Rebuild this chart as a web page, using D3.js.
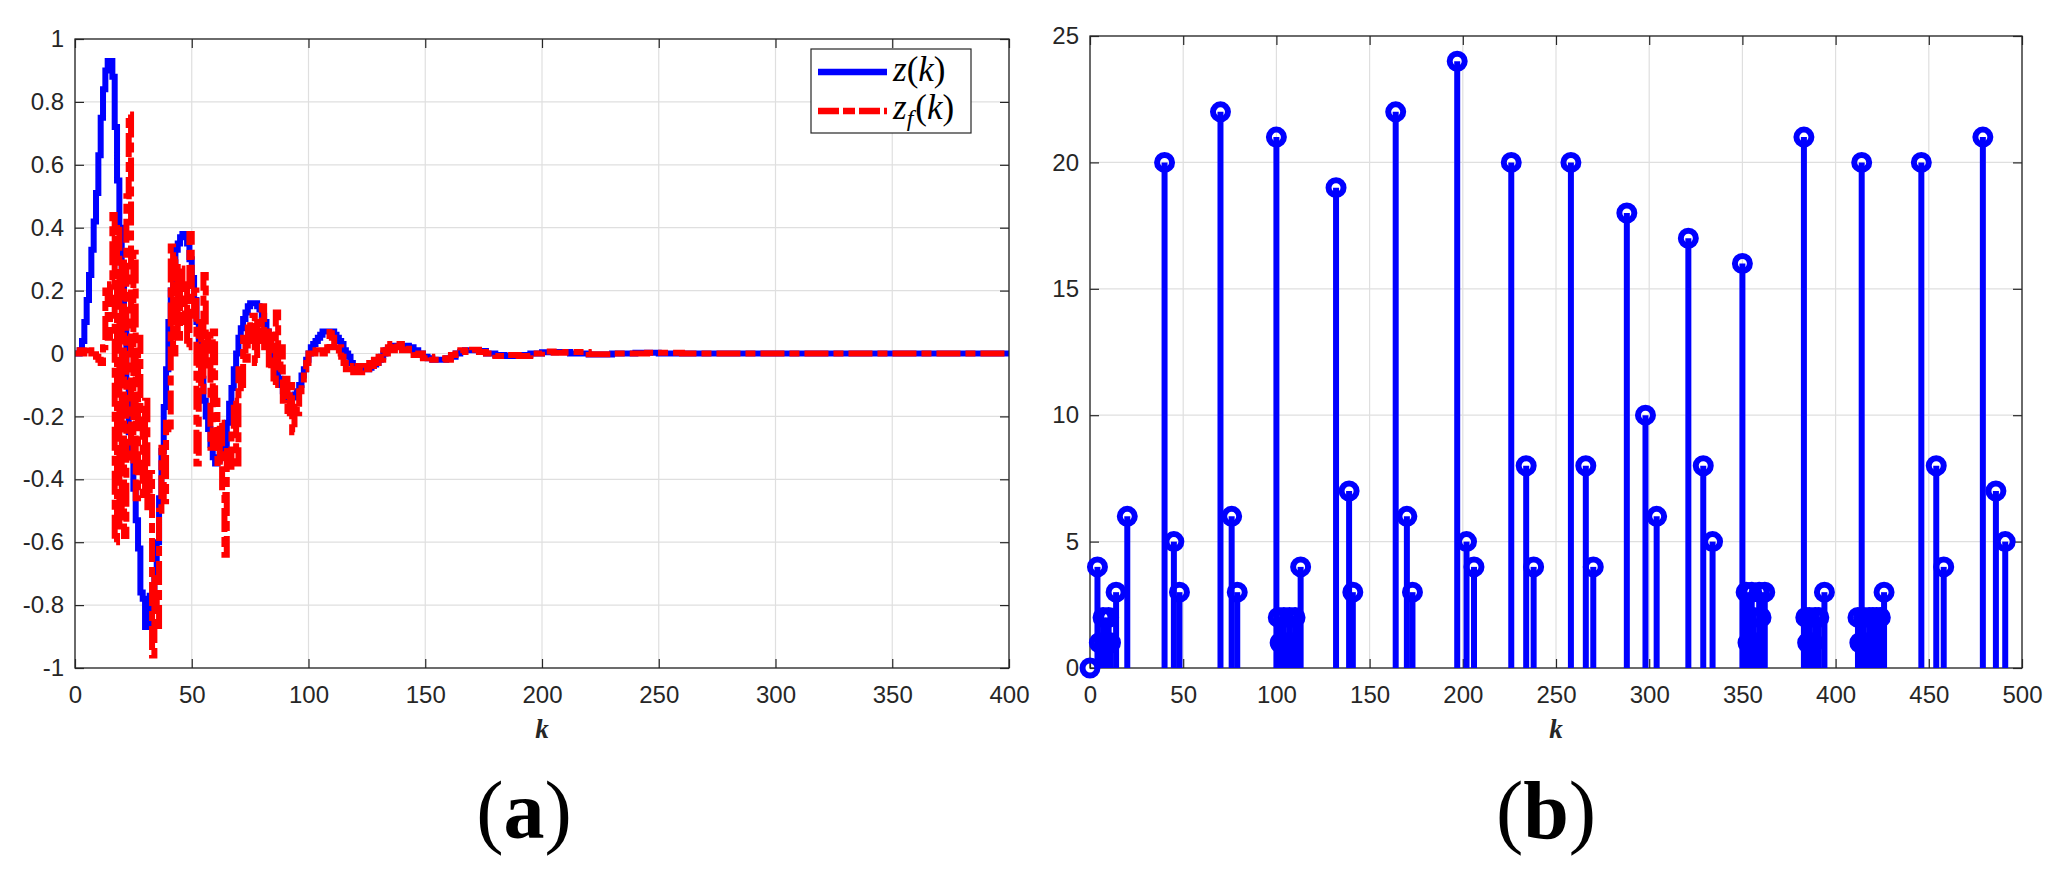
<!DOCTYPE html>
<html><head><meta charset="utf-8">
<script src="https://cdn.jsdelivr.net/npm/d3@7"></script>
<style>html,body{margin:0;padding:0;background:#fff;} svg{display:block}</style>
</head><body>
<svg id="chart" width="2060" height="870"></svg>
<script>
// ---------- DATA ----------
// (a) dense part, one sample per k = 0..120
const kDense = d3.range(0, 121);
const zDense = [
 0,0,0.01,0.04,0.1,0.17,0.25,0.33,0.42,0.51,
 0.63,0.75,0.84,0.9,0.93,0.93,0.88,0.72,0.55,0.4,
 0.27,0.1,-0.09,-0.25,-0.33,-0.43,-0.53,-0.62,-0.76,-0.78,
 -0.87,-0.87,-0.77,-0.77,-0.72,-0.6,-0.46,-0.31,-0.17,-0.05,
 0.1,0.2,0.28,0.33,0.35,0.37,0.38,0.38,0.35,0.3,
 0.24,0.17,0.1,0.01,-0.08,-0.15,-0.2,-0.24,-0.29,-0.33,
 -0.35,-0.34,-0.32,-0.31,-0.3,-0.22,-0.16,-0.11,-0.05,0,
 0.05,0.08,0.11,0.13,0.15,0.16,0.16,0.16,0.15,0.14,
 0.12,0.1,0.07,0.03,0,-0.03,-0.06,-0.08,-0.1,-0.12,
 -0.13,-0.14,-0.14,-0.14,-0.13,-0.12,-0.1,-0.07,-0.05,-0.02,
 0,0.02,0.03,0.04,0.05,0.06,0.07,0.07,0.07,0.07,
 0.07,0.06,0.05,0.04,0.03,0.01,0,-0.01,-0.03,-0.04,
 -0.05
];
const zfDense = [
 0,0,0.01,0,0.01,0.02,0.01,0,0.01,-0.01,
 -0.02,-0.03,0.02,0.2,0.05,0.22,0.44,-0.6,0.41,-0.55,
 0.3,-0.58,0.5,0.76,-0.35,0.32,-0.46,0.05,-0.2,-0.45,
 -0.15,-0.5,-0.38,-0.96,-0.7,-0.88,-0.5,-0.3,-0.47,-0.22,
 -0.25,0.34,0,0.3,0.05,0.27,0.1,0.22,0.02,0.38,
 0.12,0.2,-0.35,0.1,-0.12,0.25,-0.05,0.06,-0.3,0.07,
 -0.15,-0.36,-0.22,-0.45,-0.64,-0.3,-0.36,-0.24,-0.15,-0.35,
 -0.05,-0.12,0.05,-0.02,0.1,0.04,0.12,-0.03,0.1,0.04,
 0.15,0.02,0.08,-0.05,0.06,-0.1,0.13,-0.05,0.02,-0.15,
 -0.08,-0.2,-0.1,-0.25,-0.16,-0.19,-0.12,-0.1,-0.05,-0.03,
 0,0.01,0,0.01,0,0.01,0,0.01,0.02,0.08,
 0.05,0.02,0,0.02,-0.01,-0.03,-0.05,-0.06,-0.05,-0.04,
 -0.06
];
// (a) tail part, step change points
const kTailZ = [121,126,127,128,129,130,131,132,133,134,135,137,141,143,145,147,149,151,153,159,161,163,165,167,173,176,180,184,190,195,200,206,212,220,230,240,250,400];
const zTail  = [-0.05,-0.045,-0.04,-0.035,-0.03,-0.02,-0.01,0,0.01,0.015,0.02,0.025,0.025,0.02,0.01,0,-0.01,-0.015,-0.02,-0.015,-0.01,0,0.005,0.01,0.008,0,-0.005,-0.008,-0.005,0,0.004,0.005,0,-0.003,0,0.002,0,0];
const kTailZf = [121,122,123,124,125,126,127,128,129,130,131,132,133,134,135,136,137,138,139,140,141,142,143,145,147,149,151,153,156,159,161,163,165,167,170,173,176,180,184,190,195,200,205,210,220,230,245,260,400];
const zfTail  = [-0.04,-0.06,-0.05,-0.04,-0.05,-0.03,-0.04,-0.02,-0.03,-0.01,-0.02,0.01,0,0.02,0.03,0.01,0.035,0.02,0.03,0.01,0.025,0.01,0.015,-0.005,0,-0.015,-0.01,-0.02,-0.015,-0.02,-0.005,0,0.01,0.005,0.012,0.005,0,-0.008,-0.005,-0.008,0,0.006,0.002,0.005,-0.002,0,0.002,0,0];

// (b) stem data
const stemK = [0,4,5,7,8,10,11,14,20, 40,45,48, 70,76,79, 100,101,102,104,105,107,108,110,113, 132,139,141, 164,170,173, 197,202,206, 226,234,238, 258,266,270, 288,298,304, 321,329,334, 350,352,353,355,356,357,359,360,362, 383,384,385,386,388,389,391,394, 412,413,414,415,416,418,419,420,422,424,426, 446,454,458, 479,486,491];
const stemV = [0,4,1,2,1,2,1,3,6, 20,5,3, 22,6,3, 21,2,1,2,1,2,1,2,4, 19,7,3, 22,6,3, 24,5,4, 20,8,4, 20,8,4, 18,10,6, 17,8,5, 16,3,1,3,2,1,3,2,3, 21,2,1,2,1,2,2,3, 2,1,20,2,1,2,1,2,2,2,3, 20,8,4, 21,7,5];

// ticks
const leftXTicks  = [0,50,100,150,200,250,300,350,400];
const leftYTicks  = [-1,-0.8,-0.6,-0.4,-0.2,0,0.2,0.4,0.6,0.8,1];
const rightXTicks = [0,50,100,150,200,250,300,350,400,450,500];
const rightYTicks = [0,5,10,15,20,25];
const xLabel = "k";
const panelLabels = ["a","b"];

// ---------- DRAWING ----------
const svg = d3.select("#chart");
const AX = "#262626", GRID = "#dfdfdf", BLUE = "#0000ff", RED = "#ff0000";
const FONT = "'Liberation Sans', Arial, Helvetica, sans-serif";
const SERIF = "'Liberation Serif', 'Times New Roman', serif";

function drawFrame(g, x, y, xt, yt, fmt) {
  const [X0, X1] = x.range();
  const [Yb, Yt] = y.range();
  g.append("g").selectAll("line").data(xt).join("line")
    .attr("x1", d => x(d)).attr("x2", d => x(d)).attr("y1", Yt).attr("y2", Yb)
    .attr("stroke", GRID).attr("stroke-width", 1.2);
  g.append("g").selectAll("line").data(yt).join("line")
    .attr("y1", d => y(d)).attr("y2", d => y(d)).attr("x1", X0).attr("x2", X1)
    .attr("stroke", GRID).attr("stroke-width", 1.2);
  const style = sel => {
    sel.select(".domain").remove();
    sel.selectAll(".tick line").attr("stroke", AX).attr("stroke-width", 1.2);
    sel.selectAll(".tick text").attr("fill", AX).style("font-family", FONT).style("font-size", "24px");
  };
  g.append("g").attr("transform", `translate(0,${Yb})`)
    .call(d3.axisBottom(x).tickValues(xt).tickSizeInner(-9).tickSizeOuter(0).tickPadding(18).tickFormat(d => String(d)))
    .call(style);
  g.append("g").attr("transform", `translate(0,${Yt})`)
    .call(d3.axisTop(x).tickValues(xt).tickSizeInner(-9).tickSizeOuter(0).tickFormat(""))
    .call(style);
  g.append("g").attr("transform", `translate(${X0},0)`)
    .call(d3.axisLeft(y).tickValues(yt).tickSizeInner(-9).tickSizeOuter(0).tickPadding(11).tickFormat(fmt))
    .call(style);
  g.append("g").attr("transform", `translate(${X1},0)`)
    .call(d3.axisRight(y).tickValues(yt).tickSizeInner(-9).tickSizeOuter(0).tickFormat(""))
    .call(style);
}
function drawBox(g, x, y) {
  const [X0, X1] = x.range();
  const [Yb, Yt] = y.range();
  g.append("rect").attr("x", X0).attr("y", Yt).attr("width", X1 - X0).attr("height", Yb - Yt)
    .attr("fill", "none").attr("stroke", AX).attr("stroke-width", 1.3);
}

// ----- panel (a) -----
const xa = d3.scaleLinear().domain([0, 400]).range([75, 1009]);
const ya = d3.scaleLinear().domain([-1, 1]).range([668, 39]);
const ga = svg.append("g");
drawFrame(ga, xa, ya, leftXTicks, leftYTicks, d => String(d));

const zPts  = kDense.map((k, i) => [k, zDense[i]]).concat(kTailZ.map((k, i) => [k, zTail[i]]));
const zfPts = kDense.map((k, i) => [k, zfDense[i]]).concat(kTailZf.map((k, i) => [k, zfTail[i]]));
const lineA = d3.line().x(d => xa(d[0])).y(d => ya(d[1])).curve(d3.curveStepAfter);
ga.append("path").attr("d", lineA(zPts)).attr("fill", "none")
  .attr("stroke", BLUE).attr("stroke-width", 6).attr("stroke-linejoin", "miter");
ga.append("path").attr("d", lineA(zfPts)).attr("fill", "none")
  .attr("stroke", RED).attr("stroke-width", 6).attr("stroke-dasharray", "24,5,10,5");
drawBox(ga, xa, ya);

// legend
const lg = ga.append("g");
lg.append("rect").attr("x", 811).attr("y", 49).attr("width", 160).attr("height", 84)
  .attr("fill", "#fff").attr("stroke", AX).attr("stroke-width", 1.2);
lg.append("line").attr("x1", 818).attr("x2", 887).attr("y1", 72).attr("y2", 72)
  .attr("stroke", BLUE).attr("stroke-width", 6.5);
lg.append("line").attr("x1", 818).attr("x2", 887).attr("y1", 111).attr("y2", 111)
  .attr("stroke", RED).attr("stroke-width", 6.5).attr("stroke-dasharray", "21,4,12,4");
const t1 = lg.append("text").attr("x", 893).attr("y", 81).style("font-family", SERIF).style("font-size", "35px").attr("fill", "#000");
t1.append("tspan").attr("font-style", "italic").text("z");
t1.append("tspan").text("(");
t1.append("tspan").attr("font-style", "italic").text("k");
t1.append("tspan").text(")");
const t2 = lg.append("text").attr("x", 893).attr("y", 119).style("font-family", SERIF).style("font-size", "35px").attr("fill", "#000");
t2.append("tspan").attr("font-style", "italic").text("z");
t2.append("tspan").attr("font-style", "italic").attr("font-size", "24px").attr("dy", 7).text("f");
t2.append("tspan").attr("dy", -7).attr("dx", 2).text("(");
t2.append("tspan").attr("font-style", "italic").text("k");
t2.append("tspan").text(")");

// ----- panel (b) -----
const xb = d3.scaleLinear().domain([0, 500]).range([1090, 2022]);
const yb = d3.scaleLinear().domain([0, 25]).range([668, 36]);
const gb = svg.append("g");
drawFrame(gb, xb, yb, rightXTicks, rightYTicks, d => String(d));
drawBox(gb, xb, yb);
const stems = stemK.map((k, i) => ({k, v: stemV[i]}));
gb.append("g").selectAll("line").data(stems).join("line")
  .attr("x1", d => xb(d.k)).attr("x2", d => xb(d.k))
  .attr("y1", yb(0)).attr("y2", d => yb(d.v))
  .attr("stroke", BLUE).attr("stroke-width", 6);
gb.append("g").selectAll("circle").data(stems).join("circle")
  .attr("cx", d => xb(d.k)).attr("cy", d => yb(d.v)).attr("r", 7.5)
  .attr("fill", "none").attr("stroke", BLUE).attr("stroke-width", 6);

// axis labels
[[xa, 542], [xb, 1556]].forEach(([s, cx]) => {
  svg.append("text").attr("x", cx).attr("y", 738).attr("text-anchor", "middle")
    .style("font-family", SERIF).style("font-size", "27px").style("font-style", "italic").style("font-weight", "bold")
    .attr("fill", "#262626").text(xLabel);
});
// panel labels
[[panelLabels[0], 524], [panelLabels[1], 1546]].forEach(([lab, cx]) => {
  const t = svg.append("text").attr("x", cx).attr("y", 838).attr("text-anchor", "middle")
    .style("font-family", SERIF).style("font-size", "82px").attr("fill", "#000");
  t.append("tspan").text("(");
  t.append("tspan").style("font-weight", "bold").text(lab);
  t.append("tspan").text(")");
});
</script>
</body></html>
